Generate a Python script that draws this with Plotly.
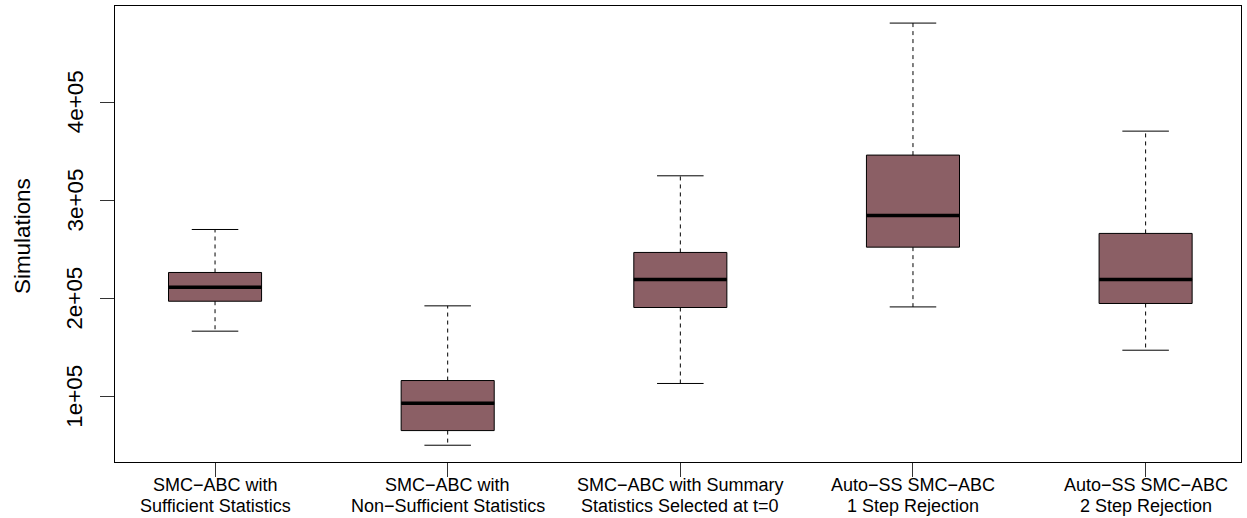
import plotly.graph_objects as go

# ---- data ----
label_line1 = ["SMC\u2212ABC with", "SMC\u2212ABC with", "SMC\u2212ABC with Summary",
               "Auto\u2212SS SMC\u2212ABC", "Auto\u2212SS SMC\u2212ABC"]
label_line2 = ["Sufficient Statistics", "Non\u2212Sufficient Statistics",
               "Statistics Selected at t=0", "1 Step Rejection", "2 Step Rejection"]
lower_whisker = [166800, 50600, 113500, 191500, 147400]
q1_values     = [197300, 65500, 190900, 252400, 195000]
medians       = [211600, 93400, 219500, 284700, 219500]
q3_values     = [226600, 116500, 247000, 346200, 266400]
upper_whisker = [270400, 192600, 325100, 480700, 370600]

y_tickvals = [100000, 200000, 300000, 400000]
y_ticktext = ["1e+05", "2e+05", "3e+05", "4e+05"]
y_title = "Simulations"

fill_color = "#8B5F65"
font_family = "Liberation Sans, Arial, Helvetica, sans-serif"
box_w = 0.4
cap_w = 0.2

positions = list(range(1, len(label_line1) + 1))

fig = go.Figure()

# box bodies (whiskers drawn separately as dashed lines)
for i, p in enumerate(positions):
    fig.add_trace(go.Box(
        x=[p], q1=[q1_values[i]], median=[medians[i]], q3=[q3_values[i]],
        lowerfence=[q1_values[i]], upperfence=[q3_values[i]],
        width=box_w, fillcolor=fill_color,
        line=dict(color="black", width=1), whiskerwidth=0,
        boxpoints=False, showlegend=False, hoverinfo="skip",
    ))

# dashed whiskers
wx, wy = [], []
for i, p in enumerate(positions):
    wx += [p, p, None, p, p, None]
    wy += [q3_values[i], upper_whisker[i], None, q1_values[i], lower_whisker[i], None]
fig.add_trace(go.Scatter(x=wx, y=wy, mode="lines",
                         line=dict(color="black", width=1, dash="4px,4px"),
                         showlegend=False, hoverinfo="skip"))

# caps
cx, cy = [], []
for i, p in enumerate(positions):
    for v in (upper_whisker[i], lower_whisker[i]):
        cx += [p - cap_w / 2, p + cap_w / 2, None]
        cy += [v, v, None]
fig.add_trace(go.Scatter(x=cx, y=cy, mode="lines",
                         line=dict(color="black", width=1),
                         showlegend=False, hoverinfo="skip"))

# thick medians
mx, my = [], []
for i, p in enumerate(positions):
    mx += [p - box_w / 2, p + box_w / 2, None]
    my += [medians[i], medians[i], None]
fig.add_trace(go.Scatter(x=mx, y=my, mode="lines",
                         line=dict(color="black", width=3.6),
                         showlegend=False, hoverinfo="skip"))

annotations = []
# x category labels (two lines each)
for i, p in enumerate(positions):
    annotations.append(dict(x=p, xref="x", y=0, yref="paper", text=label_line1[i],
                            showarrow=False, xanchor="center", yanchor="middle",
                            yshift=-23, font=dict(size=18)))
    annotations.append(dict(x=p, xref="x", y=0, yref="paper", text=label_line2[i],
                            showarrow=False, xanchor="center", yanchor="middle",
                            yshift=-44, font=dict(size=18)))
# y tick labels, rotated
for v, t in zip(y_tickvals, y_ticktext):
    annotations.append(dict(x=0, xref="paper", y=v, yref="y", text=t,
                            showarrow=False, xanchor="center", yanchor="middle",
                            textangle=-90, xshift=-40, font=dict(size=22.4)))
# y title
annotations.append(dict(x=0, xref="paper", y=0.5, yref="paper", text=y_title,
                        showarrow=False, xanchor="center", yanchor="middle",
                        textangle=-90, xshift=-93, yshift=-2, font=dict(size=22.4)))

fig.update_layout(
    width=1247, height=518,
    margin=dict(l=115, r=6, t=6, b=56),
    paper_bgcolor="white", plot_bgcolor="white",
    font=dict(family=font_family, size=18, color="black"),
    showlegend=False,
    annotations=annotations,
    xaxis=dict(
        range=[0.57, 5.41], tickvals=positions, showticklabels=False,
        showgrid=False, zeroline=False, showline=True, mirror=True,
        linecolor="black", linewidth=1,
        ticks="outside", ticklen=14, tickcolor="#333333", tickwidth=1,
    ),
    yaxis=dict(
        range=[33500, 498100], tickvals=y_tickvals, showticklabels=False,
        showgrid=False, zeroline=False, showline=True, mirror=True,
        linecolor="black", linewidth=1,
        ticks="outside", ticklen=14, tickcolor="#333333", tickwidth=1,
    ),
)

fig.write_html("out.html")
